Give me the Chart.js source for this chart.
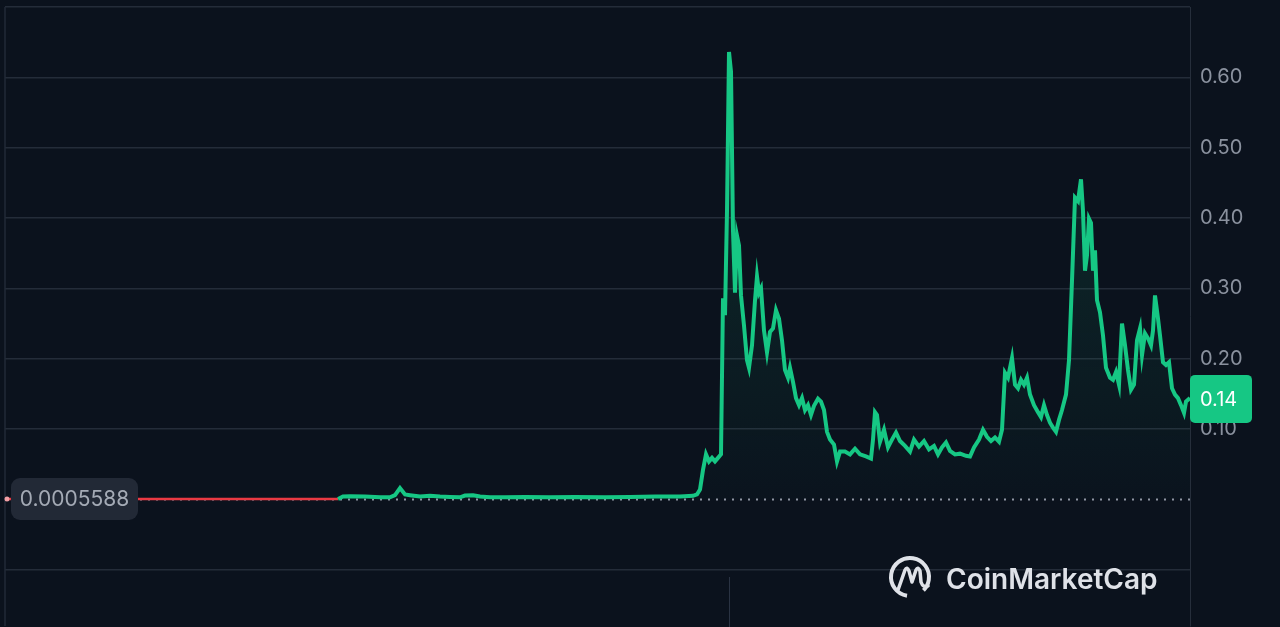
<!DOCTYPE html>
<html lang="en">
<head>
<meta charset="UTF-8">
<title>Price chart</title>
<script src="https://cdn.jsdelivr.net/npm/chart.js"></script>
<style>
  html, body { margin: 0; padding: 0; background: #0b121d; overflow: hidden; }
  #wrap { width: 1280px; height: 627px; position: relative; overflow: hidden; }
  #priceChart { position: absolute; left: 0; top: -15px; }
</style>
</head>
<body>
<div id="wrap"><canvas id="priceChart" width="1280" height="663"></canvas></div>
<script>
// days since start of the range
const days = [
  0, 30, 60, 100, 150, 200, 250, 300, 333,
  338, 345, 360, 375, 385, 390, 395, 400, 405, 415, 425, 435, 445, 455, 460, 468, 475, 485,
  500, 520, 545, 570, 600, 625, 650, 675, 688,
  692, 695, 698, 701, 704, 707, 710, 713, 716, 718, 720, 722, 724, 726, 728, 730, 732, 734, 736,
  739, 742, 744, 747, 750, 752, 754, 756, 759, 762, 765, 768, 771, 774, 777, 780, 783, 785, 788,
  791, 794, 797, 800, 803, 806, 809, 813, 816, 819, 822, 825, 829, 832, 835, 840, 845, 850, 855,
  861, 866, 868, 870, 872, 875, 879, 883, 887, 891, 895, 900, 905, 909, 914, 919, 924, 929, 933,
  937, 941, 945, 950, 955, 961, 965, 969, 974, 978, 982, 986, 990, 994, 997, 1000, 1003, 1007,
  1010, 1013, 1016, 1019, 1022, 1025, 1029, 1033, 1036, 1039, 1042, 1045, 1048, 1051, 1054, 1057,
  1061, 1064, 1067, 1070, 1073, 1076, 1078, 1080, 1082, 1084, 1086, 1088, 1090, 1092, 1095, 1098,
  1101, 1105, 1108, 1111, 1114, 1117, 1120, 1123, 1126, 1129, 1132, 1135, 1137, 1140, 1143, 1146,
  1148, 1150, 1153, 1155, 1158, 1161, 1164, 1167, 1170, 1173, 1176, 1179, 1181, 1185
];
const prices = [
  0.00056, 0.00052, 0.0005, 0.00049, 0.0005, 0.00049, 0.0005, 0.00051, 0.00052,
  0.004, 0.0045, 0.004, 0.003, 0.003, 0.006, 0.016, 0.007, 0.006, 0.004, 0.005, 0.004, 0.0035, 0.003, 0.0055, 0.006, 0.004, 0.003,
  0.003, 0.0035, 0.003, 0.0035, 0.003, 0.0035, 0.004, 0.004, 0.005,
  0.007, 0.014, 0.042, 0.064, 0.054, 0.059, 0.054, 0.059, 0.064, 0.286, 0.262, 0.41, 0.636, 0.608, 0.382, 0.294, 0.375, 0.361, 0.29,
  0.247, 0.198, 0.187, 0.219, 0.283, 0.317, 0.294, 0.3, 0.24, 0.209, 0.238, 0.243, 0.269, 0.257, 0.226, 0.184, 0.173, 0.187, 0.167,
  0.144, 0.134, 0.144, 0.127, 0.134, 0.12, 0.133, 0.143, 0.139, 0.127, 0.096, 0.085, 0.078, 0.054, 0.068, 0.068, 0.064, 0.072, 0.064,
  0.061, 0.058, 0.085, 0.124, 0.12, 0.082, 0.099, 0.074, 0.085, 0.095, 0.083, 0.076, 0.068, 0.085, 0.075, 0.083, 0.071, 0.076, 0.064,
  0.074, 0.081, 0.069, 0.064, 0.065, 0.062, 0.061, 0.074, 0.085, 0.099, 0.089, 0.083, 0.088, 0.082, 0.099, 0.18, 0.173, 0.201,
  0.163, 0.158, 0.17, 0.163, 0.173, 0.149, 0.134, 0.124, 0.117, 0.134, 0.12, 0.109, 0.102, 0.096, 0.113, 0.127,
  0.149, 0.198, 0.311, 0.429, 0.424, 0.455, 0.41, 0.325, 0.347, 0.399, 0.393, 0.325, 0.354, 0.283, 0.266, 0.233,
  0.187, 0.173, 0.17, 0.181, 0.163, 0.25, 0.219, 0.184, 0.156, 0.163, 0.226, 0.243, 0.205, 0.236, 0.229, 0.219,
  0.24, 0.29, 0.257, 0.233, 0.195, 0.191, 0.195, 0.158, 0.149, 0.144, 0.134, 0.123, 0.139, 0.144
];
const startPrice = 0.0005588;
const lastPrice = 0.14;
const yLabels = ['0.10', '0.20', '0.30', '0.40', '0.50', '0.60'];

const GREEN = '#16c784';
const RED = '#ea3943';
const SHIFT = 15; // canvas sits 15px above the visible frame
const points = days.map((d, i) => ({ x: d, y: prices[i] }));

const overlay = {
  id: 'overlay',
  beforeDatasetsDraw(chart) {
    const { ctx, chartArea, scales } = chart;
    const y0 = Math.round(scales.y.getPixelForValue(startPrice)) + 0.5;
    // dotted line at the opening price
    ctx.save();
    ctx.fillStyle = '#8f96a3';
    for (let x = 140; x < chartArea.right; x += 8) {
      ctx.fillRect(x, y0 - 1, 2, 2);
    }
    // left frame line
    ctx.strokeStyle = '#222a37';
    ctx.lineWidth = 1.5;
    ctx.beginPath();
    ctx.moveTo(chartArea.left, chartArea.top);
    ctx.lineTo(chartArea.left, chartArea.bottom);
    ctx.stroke();
    ctx.restore();
  },
  afterDatasetsDraw(chart) {
    const { ctx, chartArea, scales } = chart;
    const y0 = scales.y.getPixelForValue(startPrice);
    ctx.save();
    // start point
    ctx.fillStyle = '#f0a0a6';
    ctx.beginPath();
    ctx.arc(chartArea.left + 2, y0, 2.5, 0, Math.PI * 2);
    ctx.fill();
    // opening price badge
    ctx.fillStyle = '#222936';
    ctx.beginPath();
    ctx.roundRect(11, y0 - 21, 127, 42, 9);
    ctx.fill();
    ctx.fillStyle = '#a4aab5';
    ctx.font = '21px Inter, "Noto Sans", sans-serif';
    ctx.textAlign = 'center';
    ctx.textBaseline = 'middle';
    ctx.fillText(startPrice.toString(), 74.5, y0 + 1);
    // last price badge
    const yl = scales.y.getPixelForValue(lastPrice) - 2;
    ctx.fillStyle = GREEN;
    ctx.beginPath();
    ctx.roundRect(chartArea.right, yl - 24, 62, 48, 5);
    ctx.fill();
    ctx.fillStyle = '#ffffff';
    ctx.font = '20px Inter, "Noto Sans", sans-serif';
    ctx.textAlign = 'left';
    ctx.fillText(lastPrice.toFixed(2), chartArea.right + 10, yl + 1);
    // tick under the peak
    const xp = Math.round(scales.x.getPixelForValue(724)) + 0.5;
    ctx.strokeStyle = '#2a3343';
    ctx.lineWidth = 1;
    ctx.beginPath();
    ctx.moveTo(xp, 577 + SHIFT);
    ctx.lineTo(xp, chart.height);
    ctx.stroke();
    // watermark
    ctx.translate(0, SHIFT);
    ctx.strokeStyle = '#dfe2e8';
    ctx.lineWidth = 4;
    ctx.beginPath();
    ctx.arc(910, 577, 19, Math.PI * 0.55, Math.PI * 2.25);
    ctx.stroke();
    ctx.lineWidth = 3.5;
    ctx.lineJoin = 'round';
    ctx.lineCap = 'round';
    ctx.beginPath();
    ctx.moveTo(898, 590);
    ctx.lineTo(905, 570);
    ctx.quadraticCurveTo(907, 566, 909, 571);
    ctx.lineTo(912, 582);
    ctx.lineTo(916, 570);
    ctx.quadraticCurveTo(918, 566, 920, 571);
    ctx.lineTo(921, 582);
    ctx.quadraticCurveTo(923, 588, 928, 586);
    ctx.stroke();
    ctx.fillStyle = '#dfe2e8';
    ctx.font = '600 28px Inter, "Noto Sans", sans-serif';
    ctx.textAlign = 'left';
    ctx.textBaseline = 'alphabetic';
    ctx.fillText('CoinMarketCap', 946, 589);
    ctx.restore();
  }
};

const chart = new Chart(document.getElementById('priceChart'), {
  type: 'line',
  data: {
    datasets: [{
      data: points,
      borderWidth: 4,
      borderColor: GREEN,
      pointRadius: 0,
      tension: 0,
      fill: { value: startPrice },
      backgroundColor(context) {
        const { chart } = context;
        const area = chart.chartArea;
        if (!area) return 'rgba(22,199,132,0.08)';
        const y0 = chart.scales.y.getPixelForValue(startPrice);
        const g = chart.ctx.createLinearGradient(0, area.top, 0, y0);
        g.addColorStop(0, 'rgba(22,199,132,0.18)');
        g.addColorStop(1, 'rgba(22,199,132,0.01)');
        return g;
      },
      segment: {
        borderColor: ctx => (ctx.p1.parsed.y < startPrice ? RED : GREEN),
        borderWidth: ctx => (ctx.p1.parsed.y < startPrice ? 2.5 : 4)
      }
    }]
  },
  options: {
    responsive: false,
    animation: false,
    layout: { padding: { left: 5, top: 5, right: 0, bottom: 0 } },
    plugins: {
      legend: { display: false },
      tooltip: { enabled: false }
    },
    scales: {
      x: {
        type: 'linear',
        min: 0,
        max: 1185,
        display: false
      },
      y: {
        position: 'right',
        min: -0.18,
        max: 0.7,
        afterFit(scale) { scale.width = 90; },
        afterBuildTicks(scale) {
          scale.ticks = [-0.1, 0, 0.1, 0.2, 0.3, 0.4, 0.5, 0.6, 0.7].map(v => ({ value: v }));
        },
        border: { display: true, color: '#262e3b', width: 1 },
        grid: {
          color: ctx => (Math.abs(ctx.tick.value) < 1e-9 ? 'rgba(0,0,0,0)' : '#242c39'),
          lineWidth: 1.5,
          drawTicks: false
        },
        ticks: {
          padding: 10,
          color: '#8a919e',
          font: { family: 'Inter, "Noto Sans", sans-serif', size: 20 },
          callback(value) {
            const s = value.toFixed(2);
            return yLabels.includes(s) ? s : '';
          }
        }
      }
    }
  },
  plugins: [overlay]
});
</script>
</body>
</html>
